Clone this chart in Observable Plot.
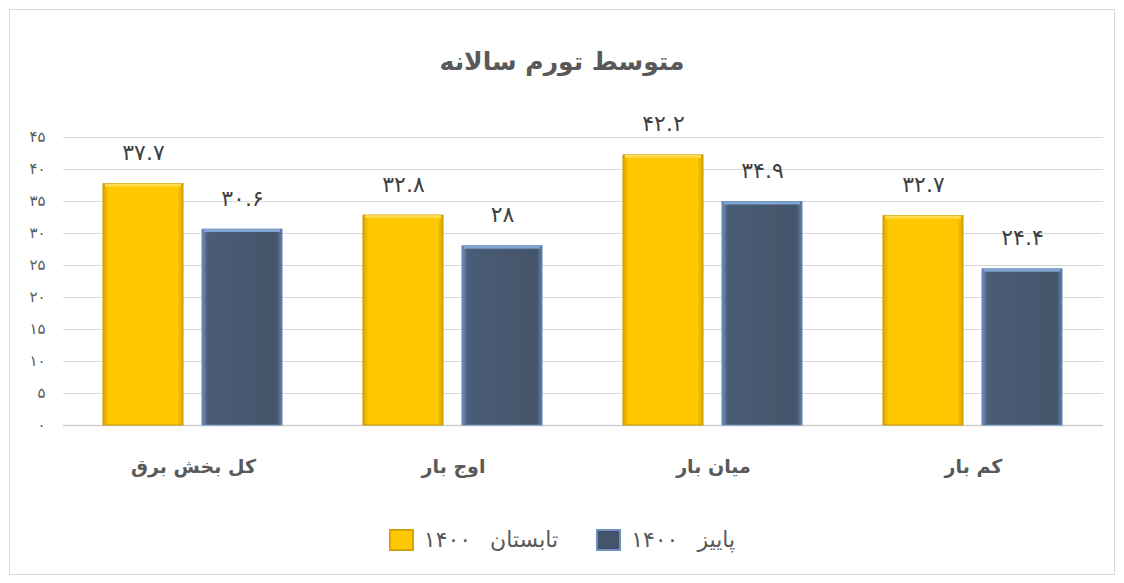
<!DOCTYPE html>
<html><head><meta charset="utf-8">
<script src="https://cdn.jsdelivr.net/npm/d3@7"></script>
<script src="https://cdn.jsdelivr.net/npm/@observablehq/plot@0.6"></script>
<style>
body{margin:0;background:#fff;font-family:"DejaVu Sans",sans-serif;}
#box{position:absolute;left:9px;top:9px;width:1104px;height:564px;border:1px solid #d9d9d9;background:#fff;}
#title{position:absolute;left:0;top:37px;width:1104px;text-align:center;font-size:25px;font-weight:bold;color:#595959;direction:rtl;}
#chart{position:absolute;left:0;top:91px;}
#legend{position:absolute;top:517px;left:0;width:1104px;display:flex;justify-content:center;align-items:center;gap:38px;font-size:22px;color:#595959;word-spacing:12px;}
.item{display:flex;align-items:center;gap:10px;}
.sw{width:25px;height:22px;box-sizing:border-box;}
</style></head><body>
<div id="box">
<div id="title">متوسط تورم سالانه</div>
<div id="chart"></div>
<div id="legend"></div>
</div>
<script>
const categories = ["کل بخش برق", "اوج بار", "میان بار", "کم بار"];
const seriesNames = ["تابستان ۱۴۰۰", "پاییز ۱۴۰۰"];
const summer = [37.7, 32.8, 42.2, 32.7];
const autumn = [30.6, 28, 34.9, 24.4];
const yTicks = [0, 5, 10, 15, 20, 25, 30, 35, 40, 45];

const fa = v => String(v).replace(/\d/g, d => "۰۱۲۳۴۵۶۷۸۹"[d]);
const data = [];
categories.forEach((c, i) => {
  data.push({cat: c, series: seriesNames[0], value: summer[i]});
  data.push({cat: c, series: seriesNames[1], value: autumn[i]});
});

const defs = () => {
  const ns = "http://www.w3.org/2000/svg";
  const d = document.createElementNS(ns, "defs");
  d.innerHTML = `
  <linearGradient id="gy" x1="0" x2="1" y1="0" y2="0">
    <stop offset="0" stop-color="#d9a400"/><stop offset="0.07" stop-color="#ffc800"/>
    <stop offset="0.93" stop-color="#ffc800"/><stop offset="1" stop-color="#d9a400"/>
  </linearGradient>
  <linearGradient id="gb" x1="0" x2="1" y1="0" y2="0">
    <stop offset="0" stop-color="#6f92bd"/><stop offset="0.07" stop-color="#4a5c76"/>
    <stop offset="0.93" stop-color="#44546a"/><stop offset="1" stop-color="#5d7fa8"/>
  </linearGradient>`;
  return d;
};

const chart = Plot.plot({
  width: 1104,
  height: 390,
  marginLeft: 52,
  marginRight: 10,
  marginTop: 36,
  marginBottom: 66,
  style: {fontFamily: "DejaVu Sans", fontSize: "15px", color: "#595959", background: "transparent"},
  fx: {domain: categories, padding: 0, label: null},
  x: {domain: seriesNames, paddingInner: 0.19, paddingOuter: 0.3975, axis: null},
  y: {domain: [0, 45], label: null},
  color: {domain: seriesNames, range: ["url(#gy)", "url(#gb)"]},
  marks: [
    defs,
    Plot.gridY(yTicks, {stroke: "#d9d9d9", strokeOpacity: 1}),
    Plot.axisY(yTicks, {tickFormat: fa, tickSize: 0, tickPadding: 18, fontSize: 15, fill: "#595959"}),
    Plot.ruleY([0], {stroke: "#d0d0d0", strokeWidth: 1.5}),
    Plot.barY(data, {fx: "cat", x: "series", y: "value", fill: "series",
      stroke: d => d.series === seriesNames[0] ? "#c99a00" : "#5f86b3", strokeWidth: 1}),
    Plot.barY(data, {fx: "cat", x: "series", y1: "value", y2: d => d.value - 0.45,
      fill: d => d.series === seriesNames[0] ? "#ffdb4d" : "#7fa6d4", insetLeft: 2, insetRight: 2}),
    Plot.text(data, {fx: "cat", x: "series", y: "value", text: d => fa(d.value), dy: -31,
      fontSize: 22, fill: "#404040"}),
    Plot.axisFx({anchor: "bottom", tickSize: 0, tickPadding: 34, fontSize: 19, fontWeight: "bold", fill: "#595959", label: null})
  ]
});
document.getElementById("chart").appendChild(chart);

const legend = document.getElementById("legend");
const swCols = [["#ffc800", "#d9a400"], ["#44546a", "#6f92bd"]];
[0, 1].forEach(i => {
  const it = document.createElement("div");
  it.className = "item";
  const sw = document.createElement("div");
  sw.className = "sw";
  sw.style.background = swCols[i][0];
  sw.style.border = "2px solid " + swCols[i][1];
  const t = document.createElement("span");
  t.textContent = seriesNames[i];
  t.style.direction = "rtl";
  it.appendChild(sw); it.appendChild(t);
  legend.appendChild(it);
});
</script>
</body></html>
